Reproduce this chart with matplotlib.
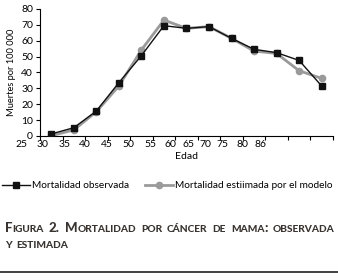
import matplotlib
matplotlib.use('Agg')
import matplotlib.pyplot as plt
from matplotlib.lines import Line2D
from matplotlib.offsetbox import TextArea, HPacker, AnchoredOffsetbox
import numpy as np

plt.rcParams['font.family'] = ['Lato', 'DejaVu Sans']

# Data
age_labels = ['25', '30', '35', '40', '45', '50', '55', '60', '65', '70', '75', '80', '86']
observed = [1.3, 5.2, 15.7, 33.6, 50.6, 69.5, 67.8, 68.9, 61.5, 54.6, 52.5, 47.6, 31.5]
estimated = [0.2, 3.8, 15.3, 31.5, 54.2, 73.0, 67.8, 68.9, 61.5, 53.5, 52.0, 41.1, 36.3]

# Excel-style label placement (labels drift away from the categories)
label_pos = [-1.3, -0.37, 0.57, 1.5, 2.48, 3.41, 4.39, 5.28, 6.08, 6.83, 7.59, 8.48, 9.28]

fig = plt.figure(figsize=(3.38, 2.80), dpi=100)
ax = fig.add_axes([0.1183, 0.5143, 0.8667, 0.4536])

x = np.arange(len(observed))
ax.plot(x, estimated, color='#9a9a9a', lw=2.0, marker='o', ms=4.5, mec='#9a9a9a',
        mfc='#9a9a9a', label='Mortalidad estiimada por el modelo', zorder=2)
ax.plot(x, observed, color='#111111', lw=1.0, marker='s', ms=4.5, mec='#111111',
        mfc='#111111', label='Mortalidad observada', zorder=3)

ax.set_xlim(-0.5, len(observed) - 0.5)
ax.set_ylim(0, 80)
ax.set_yticks(range(0, 81, 10))
ax.set_xticks(np.arange(-0.5, len(observed)))
ax.set_xticklabels([])
ax.tick_params(axis='x', length=3, width=0.8, direction='out')
ax.tick_params(axis='y', length=3, width=0.8, direction='out', pad=2, labelsize=7.5)
for pos, lab in zip(label_pos, age_labels):
    ax.text(pos, -0.03, lab, transform=ax.get_xaxis_transform(), ha='center', va='top',
            fontsize=7.5, clip_on=False)
for s in ['top', 'right']:
    ax.spines[s].set_visible(False)
for s in ['left', 'bottom']:
    ax.spines[s].set_linewidth(0.8)
ax.set_xlabel('Edad', fontsize=7.5, labelpad=5)
ax.set_ylabel('Muertes por 100 000', fontsize=6.7, labelpad=4)

h, l = ax.get_legend_handles_labels()
fig.legend(h[::-1], l[::-1], loc='upper left', bbox_to_anchor=(0.0, 0.36), ncol=2,
           frameon=False, fontsize=7.3, handlelength=2.8, handletextpad=0.2,
           columnspacing=1.5, borderaxespad=0, borderpad=0.2)

# Caption in small caps, justified
cap_color = '#3a3430'
def word_box(word):
    runs = []
    for ch in word:
        big = not ch.islower()
        if runs and runs[-1][1] == big:
            runs[-1][0] += ch
        else:
            runs.append([ch, big])
    kids = [TextArea(t.upper(), textprops=dict(fontsize=9.5 if big else 7.3,
                                               fontweight=900, color=cap_color))
            for t, big in runs]
    return HPacker(children=kids, pad=0, sep=0, align='baseline')

line1 = HPacker(children=[word_box(w) for w in 'Figura 2. Mortalidad por cáncer de mama: observada'.split()],
                pad=0, sep=3, align='baseline')
line2 = HPacker(children=[word_box(w) for w in 'y estimada'.split()],
                pad=0, sep=3, align='baseline')
for box, ypos in [(line1, 0.208), (line2, 0.139)]:
    ab = AnchoredOffsetbox(loc='upper left', child=box, pad=0, borderpad=0, frameon=False,
                           bbox_to_anchor=(0.015, ypos), bbox_transform=fig.transFigure)
    fig.add_artist(ab)

fig.canvas.draw()
w = line1.get_bbox(fig.canvas.get_renderer()).width
target = 0.97 * fig.bbox.width
n_gaps = len(line1.get_children()) - 1
line1.sep = max(3, 3 + (target - w) / n_gaps)

fig.add_artist(Line2D([0, 1], [0.028, 0.028], transform=fig.transFigure, color='#222222', lw=1.2))

plt.savefig('out.png', dpi=100)
plt.close()
